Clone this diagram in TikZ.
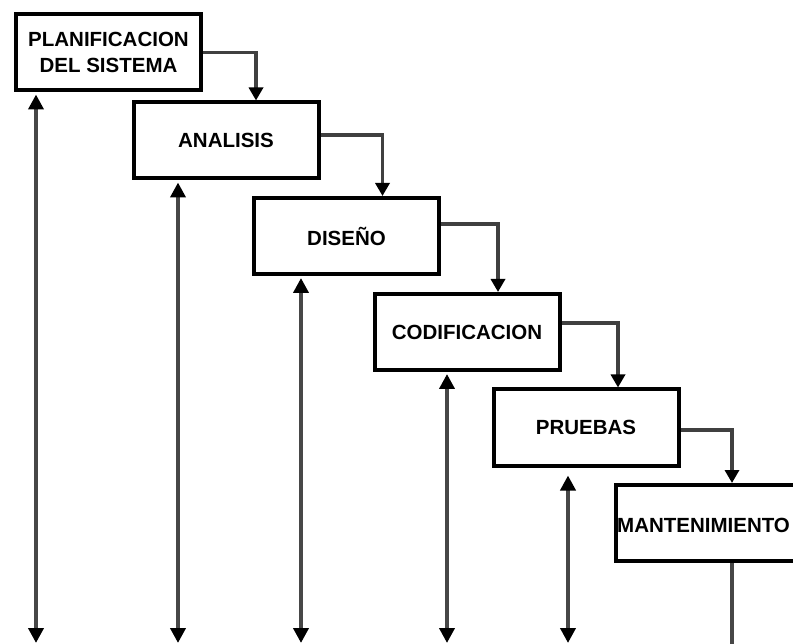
\documentclass[tikz,border=0pt]{standalone}
\usepackage{fontspec}
\setmainfont{Liberation Sans}
\usetikzlibrary{arrows.meta}
\begin{document}
\begin{tikzpicture}[x=1pt,y=-1pt,
  stage/.style={draw=black,line width=4pt,fill=white,minimum width=185pt,minimum height=76pt,inner sep=0pt,
    align=center,font=\fontsize{20.5}{26}\selectfont\bfseries},
  conn/.style={draw=black!75,line width=3.5pt,-{Triangle[width=14pt,length=13pt,color=black]}},
  varrow/.style={draw=black!72,line width=4pt,{Triangle[width=15pt,length=15pt,color=black]}-{Triangle[width=15pt,length=15pt,color=black]}},
  plain/.style={draw=black!72,line width=4pt}]
\useasboundingbox (0,0) rectangle (793,644);
\clip (0,0) rectangle (793,644);
\node[stage] (b1) at (108.5,52.5) {PLANIFICACION\\DEL SISTEMA};
\node[stage] (b2) at (226,140.5) {ANALISIS};
\node[stage] (b3) at (346.5,236) {DISEÑO};
\node[stage] (b4) at (467,332) {CODIFICACION};
\node[stage] (b5) at (586,427.5) {PRUEBAS};
\node[stage] (b6) at (708,523) {};
\node[font=\fontsize{20.5}{26}\selectfont\bfseries,anchor=west,inner sep=0pt] (t6) at (617,525) {MANTENIMIENTO};
% stage connectors
\draw[conn] (b1.east) -| ([xshift=30pt]b2.north);
\draw[conn] ([yshift=5.5pt]b2.east) -| ([xshift=36pt]b3.north);
\draw[conn] ([yshift=12pt]b3.east) -| ([xshift=31pt]b4.north);
\draw[conn] ([yshift=9pt]b4.east) -| ([xshift=32pt]b5.north);
\draw[conn] ([yshift=-2.5pt]b5.east) -| ([xshift=24pt]b6.north);
% feedback / bottom lines
\coordinate (e1) at (36,643);
\coordinate (e2) at (178,643);
\coordinate (e3) at (301,643);
\coordinate (e4) at (447,643);
\coordinate (e5) at (568,643);
\coordinate (e6) at (732,650);
\draw[varrow] ([yshift=-2pt]b1.south -| e1) -- (e1);
\draw[varrow] ([yshift=-2pt]b2.south -| e2) -- (e2);
\draw[varrow] ([yshift=-2pt]b3.south -| e3) -- (e3);
\draw[varrow] ([yshift=-2pt]b4.south -| e4) -- (e4);
\draw[varrow] ([yshift=-8pt]b5.south -| e5) -- (e5);
\draw[plain] (b6.south -| e6) -- (e6);
\end{tikzpicture}
\end{document}
